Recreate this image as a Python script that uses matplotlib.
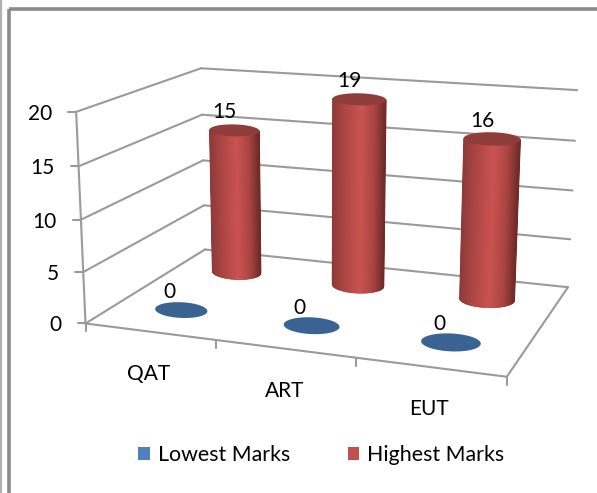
import numpy as np
import matplotlib
matplotlib.use("Agg")
import matplotlib.pyplot as plt
from matplotlib.collections import PolyCollection
from matplotlib.colors import LinearSegmentedColormap
from matplotlib.patches import Patch, Polygon, Rectangle

categories = ["QAT", "ART", "EUT"]
lowest_marks = [0, 0, 0]
highest_marks = [15, 19, 16]
value_ticks = [0, 5, 10, 15, 20]
series_names = ["Lowest Marks", "Highest Marks"]

plt.rcParams["font.family"] = ["Lato", "DejaVu Sans"]
FS = 15
W, H = 597, 493
fig = plt.figure(figsize=(W / 100, H / 100), dpi=100, facecolor="white")
ax = fig.add_axes([0, 0, 1, 1])
ax.set_xlim(0, W)
ax.set_ylim(H, 0)
ax.axis("off")

# Camera calibration: box coordinates (x, depth, value / 20) -> screen pixels
calib = [
    (0, 0, 0, 86, 324), (1/3, 0, 0, 216, 341), (2/3, 0, 0, 356, 358), (1, 0, 0, 507, 376),
    (0, 1, 0, 205, 249), (1, 1, 0, 568, 287),
    (0, 0, .25, 83, 272), (0, 0, .5, 81, 219), (0, 0, .75, 79, 166), (0, 0, 1, 76, 112),
    (0, 1, .25, 204, 205), (0, 1, .5, 203, 161), (0, 1, .75, 202, 115), (0, 1, 1, 201, 68),
    (1, 1, .25, 570, 239), (1, 1, .5, 573, 191), (1, 1, .75, 575, 141), (1, 1, 1, 577, 90),
]
A = []
for x, y, z, u, v in calib:
    A.append([x, y, z, 1, 0, 0, 0, 0, -u*x, -u*y, -u*z, -u])
    A.append([0, 0, 0, 0, x, y, z, 1, -v*x, -v*y, -v*z, -v])
P = np.linalg.svd(np.array(A, float))[2][-1].reshape(3, 4)


def proj(x, y, value):
    h = P @ np.array([x, y, value / 20.0, 1.0])
    return h[:2] / h[2]


GRID = "#9a9a9a"
LW = 1.5


def seg(a, b, **kw):
    ax.plot([a[0], b[0]], [a[1], b[1]], color=GRID, lw=LW, solid_capstyle="round", zorder=1, **kw)


# page and chart frame
ax.add_patch(Rectangle((9, 9), W + 20, H + 20, fill=False, ec="#8a8a8a", lw=2.6, zorder=0))
ax.plot([1, 1], [0, H], color="#b0b0b0", lw=1.6, zorder=0)

# walls, floor, axes
for v in value_ticks:
    seg(proj(0, 0, v), proj(0, 1, v))
    seg(proj(0, 1, v), proj(1, 1, v))
    p = proj(0, 0, v)
    seg(p, p + np.array([-8, 0]))
    ax.text(p[0] - 24, p[1], str(v), ha="right", va="center_baseline", fontsize=FS, color="black", zorder=6)
seg(proj(0, 0, 0), proj(0, 0, 20))
seg(proj(0, 0, 0), proj(1, 0, 0))
seg(proj(1, 0, 0), proj(1, 1, 0))
for i in range(len(categories) + 1):
    p = proj(i / 3, 0, 0)
    seg(p, p + np.array([0, 8]))
for i, c in enumerate(categories):
    p = proj((i + .5) / 3, 0, 0)
    ax.text(p[0] - 1, p[1] + 40, c, ha="center", va="center_baseline", fontsize=FS, color="black", zorder=6)

red_map = LinearSegmentedColormap.from_list(
    "cyl", [(0, "#8c3a38"), (.2, "#a84442"), (.55, "#cb5350"), (.8, "#a84442"), (1, "#6d2a29")])
RX = 0.069


def ellipse(i_x, depth, value):
    c = proj(i_x, depth, value)
    a = (proj(i_x + RX, depth, value) - proj(i_x - RX, depth, value)) / 2
    a = a * np.array([1, .35])
    b = np.array([0.0, np.linalg.norm(a) * (0.30 - 0.08 * value / 20)])
    return c, a, b


def cylinder(i, depth, value, cap_color, label_dx):
    xc = (i + .5) / 3
    ct, at, bt = ellipse(xc, depth, value)
    if value > 0:
        c0, a0, b0 = ellipse(xc, depth, 0)
        u = np.linspace(-1, 1, 91)
        s = np.sqrt(1 - u ** 2)
        bot = c0 + np.outer(u, a0) + np.outer(s, b0)
        top = ct + np.outer(u, at)
        quads = [np.array([bot[k], bot[k + 1], top[k + 1], top[k]]) for k in range(len(u) - 1)]
        cols = red_map((u[:-1] + u[1:] + 2) / 4)
        ax.add_collection(PolyCollection(quads, facecolors=cols, edgecolors=cols, linewidths=.5, zorder=3))
    t = np.linspace(0, 2 * np.pi, 121)
    pts = ct + np.outer(np.cos(t), at) + np.outer(np.sin(t), bt)
    ax.add_patch(Polygon(pts, closed=True, fc=cap_color, ec="none", zorder=4))
    ax.text(ct[0] + label_dx, ct[1] - 20, str(value), ha="center", va="center_baseline", fontsize=FS, color="black", zorder=6)


for i, v in enumerate(highest_marks):
    cylinder(i, .75, v, "#8f3d3b", -10)
for i, v in enumerate(lowest_marks):
    cylinder(i, .25, v, "#3b6392", -12)

handles = [Patch(fc="#4f81bd", ec="none", label=series_names[0]),
           Patch(fc="#c0504d", ec="none", label=series_names[1])]
ax.legend(handles=handles, ncols=2, loc="center", bbox_to_anchor=(321.5, 455), bbox_transform=ax.transData,
          frameon=False, fontsize=15.4, handlelength=.56, handleheight=.56, handletextpad=.37, columnspacing=2.66,
          labelcolor="black", borderpad=0)

fig.savefig("out.png", dpi=100)
